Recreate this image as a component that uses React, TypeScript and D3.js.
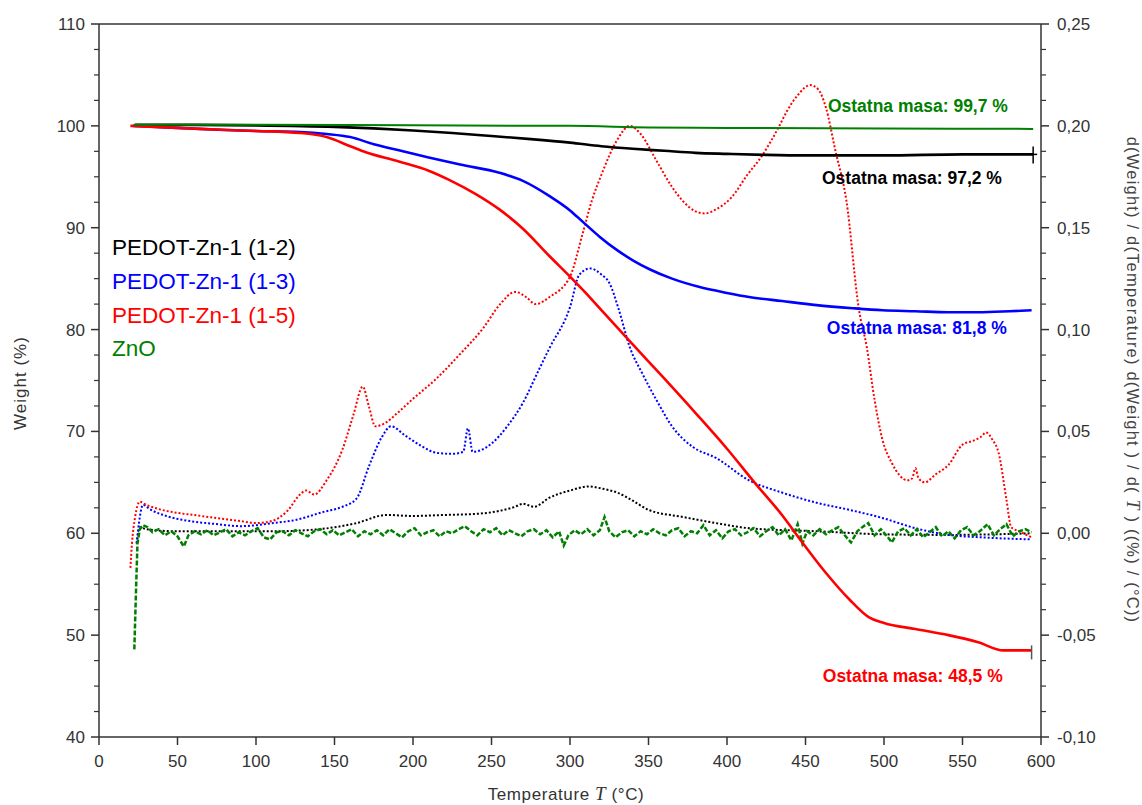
import React from 'react';
import * as d3 from 'd3';

// ---------- DATA ----------
const xTicks = [0, 50, 100, 150, 200, 250, 300, 350, 400, 450, 500, 550, 600];
const leftTicks = [40, 50, 60, 70, 80, 90, 100, 110];
const rightTicks = [-0.10, -0.05, 0.0, 0.05, 0.10, 0.15, 0.20, 0.25];

const seriesNames = ['PEDOT-Zn-1 (1-2)', 'PEDOT-Zn-1 (1-3)', 'PEDOT-Zn-1 (1-5)', 'ZnO'];
const residueLabels = ['Ostatna masa: 97,2 %', 'Ostatna masa: 81,8 %', 'Ostatna masa: 48,5 %', 'Ostatna masa: 99,7 %'];

// Weight (%) vs temperature (°C)
const weightBlack: [number, number][] = [
  [23, 100.1], [50, 100.1], [100, 100.05], [150, 99.9], [175, 99.75], [200, 99.55], [225, 99.3],
  [250, 99.0], [275, 98.7], [300, 98.35], [320, 98.0], [340, 97.75], [360, 97.55], [380, 97.35],
  [400, 97.25], [425, 97.15], [450, 97.1], [500, 97.1], [550, 97.2], [595, 97.2],
];
const weightBlue: [number, number][] = [
  [22, 100.0], [50, 99.8], [80, 99.6], [100, 99.5], [128, 99.4], [145, 99.2], [160, 98.9], [175, 98.2],
  [191, 97.6], [210, 96.9], [230, 96.2], [255, 95.4], [270, 94.6], [287, 93.1], [300, 91.7], [308, 90.6],
  [319, 89.1], [330, 87.8], [340, 86.8], [351, 85.9], [365, 85.0], [382, 84.2], [400, 83.6], [414, 83.2],
  [435, 82.8], [457, 82.4], [480, 82.1], [499, 81.9], [520, 81.8], [541, 81.7], [560, 81.7], [580, 81.8], [594, 81.9],
];
const weightRed: [number, number][] = [
  [20, 100.0], [50, 99.8], [64, 99.7], [100, 99.5], [128, 99.3], [145, 98.9], [160, 98.0], [170, 97.4],
  [191, 96.5], [210, 95.6], [223, 94.7], [240, 93.3], [255, 91.8], [270, 89.9], [287, 87.2], [300, 85.2],
  [310, 83.6], [320, 81.9], [336, 79.2], [360, 75.2], [380, 71.8], [400, 68.3], [418, 64.9], [435, 61.8],
  [448, 59.1], [462, 56.3], [478, 53.5], [490, 51.8], [500, 51.2], [520, 50.6], [541, 50.0], [560, 49.3],
  [576, 48.5], [594, 48.5],
];
const weightGreen: [number, number][] = [
  [22, 100.1], [100, 100.1], [200, 100.05], [300, 100.0], [350, 99.85], [400, 99.8], [500, 99.75], [595, 99.7],
];

// d(Weight)/dT ((%)/(°C)) vs temperature (°C)
const derivBlack: [number, number][] = [
  [24, -0.005], [26, 0.003], [30, 0.002], [50, 0.001], [80, 0.001], [111, 0.001], [140, 0.002], [164, 0.005],
  [183, 0.009], [200, 0.0085], [220, 0.009], [240, 0.0095], [255, 0.011], [265, 0.013], [270, 0.0145],
  [277, 0.013], [287, 0.0175], [300, 0.021], [312, 0.023], [320, 0.022], [330, 0.02], [340, 0.016],
  [350, 0.0115], [372, 0.008], [393, 0.005], [414, 0.0025], [457, 0.001], [500, -0.0005], [541, -0.0008], [594, 0.0],
];
const derivBlue: [number, number][] = [
  [24, -0.005], [26, 0.008], [28, 0.014], [32, 0.012], [45, 0.008], [58, 0.006], [75, 0.0045], [90, 0.0035],
  [111, 0.005], [125, 0.0065], [143, 0.0105], [155, 0.013], [164, 0.017], [172, 0.033], [180, 0.047],
  [186, 0.0525], [195, 0.048], [205, 0.043], [215, 0.0395], [225, 0.039], [232, 0.04], [235, 0.0515],
  [238, 0.04], [250, 0.044], [260, 0.0525], [270, 0.064], [280, 0.08], [287, 0.091], [300, 0.111],
  [306, 0.127], [313, 0.13], [320, 0.127], [325, 0.123], [331, 0.11], [338, 0.0915], [346, 0.0785],
  [355, 0.0655], [365, 0.0525], [378, 0.0425], [393, 0.037], [414, 0.026], [435, 0.02], [457, 0.015],
  [478, 0.0115], [499, 0.0075], [520, 0.0025], [541, -0.0008], [562, -0.002], [594, -0.003],
];
const derivRed: [number, number][] = [
  [20, -0.017], [21, -0.005], [23, 0.008], [26, 0.0155], [30, 0.014], [40, 0.0115], [50, 0.01], [60, 0.009],
  [75, 0.0075], [90, 0.006], [100, 0.005], [110, 0.006], [120, 0.011], [128, 0.019], [132, 0.021], [137, 0.019],
  [145, 0.026], [155, 0.041], [162, 0.058], [168, 0.072], [172, 0.062], [176, 0.0525], [182, 0.054], [190, 0.059],
  [200, 0.066], [215, 0.076], [230, 0.088], [245, 0.101], [255, 0.112], [265, 0.1185], [272, 0.116], [278, 0.1125],
  [287, 0.116], [300, 0.126], [308, 0.147], [314, 0.1635], [320, 0.176], [330, 0.193], [338, 0.2], [345, 0.196],
  [355, 0.183], [365, 0.17], [372, 0.163], [380, 0.158], [386, 0.157], [393, 0.159], [403, 0.165], [413, 0.176],
  [422, 0.185], [433, 0.1995], [438, 0.207], [445, 0.215], [453, 0.22], [458, 0.218], [463, 0.209], [469, 0.188],
  [476, 0.1635], [484, 0.11], [489, 0.0915], [494, 0.0655], [499, 0.046], [505, 0.0345], [515, 0.026], [518, 0.027],
  [520, 0.032], [522, 0.027], [526, 0.025], [533, 0.029], [541, 0.0335], [550, 0.0435], [557, 0.0455], [562, 0.0475],
  [565, 0.0495], [569, 0.046], [573, 0.0395], [578, 0.0165], [581, 0.003], [586, 0.001], [594, -0.002],
];
const derivGreen: [number, number][] = [
  [22.5, -0.057], [23.5, -0.03], [24.5, -0.005], [26, 0.002], [28, 0.004], [31, 0.003], [34, 0.0005], [38, 0.002],
  [42, -0.001], [46, 0.001], [50, -0.0015], [54, -0.0065], [57, -0.001], [61, 0.001], [65, -0.0005], [69, 0.0015],
  [73, -0.001], [77, 0.0005], [81, 0.002], [85, -0.0015], [89, 0.0005], [93, -0.001], [97, 0.001], [101, 0.0025],
  [105, -0.002], [109, -0.003], [113, 0.0005], [117, 0.001], [121, -0.001], [125, 0.0015], [129, 0.0], [133, -0.0015],
  [137, 0.001], [141, 0.002], [145, -0.0005], [149, 0.0015], [153, -0.001], [157, 0.0005], [161, 0.002], [165, -0.0015],
  [169, 0.001], [173, -0.0005], [177, 0.0015], [181, -0.001], [185, 0.002], [189, 0.0], [193, -0.002], [197, 0.001],
  [201, 0.0025], [205, -0.001], [209, 0.0005], [213, 0.0015], [217, -0.0015], [221, 0.001], [225, 0.0], [229, 0.002],
  [233, 0.0035], [237, 0.001], [241, -0.001], [245, 0.002], [249, 0.0005], [253, 0.0025], [257, -0.001], [261, 0.0015],
  [265, 0.0], [269, -0.0015], [273, 0.001], [277, 0.002], [281, -0.0005], [285, 0.0015], [289, -0.002], [293, 0.001],
  [296, -0.006], [299, -0.001], [303, 0.0015], [307, -0.0005], [311, 0.002], [315, -0.001], [319, 0.0015], [322, 0.008],
  [325, 0.001], [329, -0.002], [333, 0.0005], [337, 0.0015], [341, -0.0015], [345, 0.001], [349, -0.0005], [353, 0.002],
  [357, 0.0], [361, -0.001], [365, 0.0015], [369, 0.0025], [373, -0.0015], [377, 0.001], [381, 0.0], [385, 0.004],
  [389, -0.001], [393, 0.0015], [397, -0.0025], [401, 0.001], [405, 0.002], [409, -0.001], [413, 0.0005], [417, 0.0025],
  [421, -0.0015], [425, 0.001], [429, 0.003], [433, -0.001], [437, 0.002], [441, -0.0035], [445, 0.0045], [448, -0.005],
  [451, 0.001], [455, -0.001], [459, 0.002], [463, -0.0005], [467, 0.0015], [471, 0.003], [475, -0.001], [479, -0.0045],
  [483, 0.001], [487, 0.0035], [490, 0.005], [494, -0.001], [498, 0.002], [502, -0.0015], [505, -0.0045], [509, 0.001],
  [513, 0.0025], [517, -0.001], [521, 0.002], [525, -0.002], [529, 0.0005], [533, 0.003], [537, -0.0015], [541, 0.001],
  [545, -0.0025], [549, 0.0015], [553, 0.003], [557, -0.001], [561, 0.001], [566, 0.0045], [570, -0.001], [574, 0.002],
  [578, 0.0045], [582, -0.0015], [586, 0.001], [590, 0.002], [594, 0.0005],
];

// ---------- LAYOUT ----------
const W = 1142;
const H = 805;
const X0 = 99, X1 = 1041, Y0 = 24, Y1 = 737;
const FONT = '"Liberation Sans", Arial, Helvetica, sans-serif';
const SERIF = '"Liberation Serif", "Times New Roman", serif';
const AXIS = '#333333';
const COLORS = ['#000000', '#0000ff', '#ff0000', '#008000'];

const x = d3.scaleLinear().domain([0, 600]).range([X0, X1]);
const yL = d3.scaleLinear().domain([40, 110]).range([Y1, Y0]);
const yR = d3.scaleLinear().domain([-0.1, 0.25]).range([Y1, Y0]);

const lineL = d3.line<[number, number]>().x(d => x(d[0])).y(d => yL(d[1])).curve(d3.curveMonotoneX);
const lineR = d3.line<[number, number]>().x(d => x(d[0])).y(d => yR(d[1])).curve(d3.curveMonotoneX);
const lineRNoise = d3.line<[number, number]>().x(d => x(d[0])).y(d => yR(d[1]));

const fmtR = (v: number) => d3.format('.2f')(v).replace('.', ',').replace('−', '-');

export default function App() {
  const leftMinor = d3.range(40, 110.001, 2.5).filter(v => Math.abs(v % 10) > 0.01);
  const rightMinor = d3.range(-0.1, 0.25001, 0.0125).filter(v => Math.abs(Math.round(v / 0.0125) % 4) !== 0);

  const weights = [weightBlack, weightBlue, weightRed, weightGreen];
  const derivs = [derivBlack, derivBlue, derivRed];

  const legendY = [255, 289, 323, 356];
  const residuePos: [number, number][] = [[460.5, 94.3], [463.6, 79.6], [461, 45.4], [464.3, 101.4]];

  return (
    <svg width={W} height={H} style={{ position: 'absolute', left: 0, top: 0, background: '#fff' }} fontFamily={FONT}>
      <rect x={0} y={0} width={W} height={H} fill="#ffffff" />

      {/* derivative curves */}
      {derivs.map((d, i) => (
        <path key={'d' + i} d={lineR(d) || ''} fill="none" stroke={COLORS[i]} strokeWidth={2} strokeDasharray="2 2" />
      ))}
      <path d={lineRNoise(derivGreen) || ''} fill="none" stroke={COLORS[3]} strokeWidth={2.5} strokeDasharray="5 2" />

      {/* weight curves */}
      {weights.map((d, i) => (
        <path key={'w' + i} d={lineL(d) || ''} fill="none" stroke={COLORS[i]} strokeWidth={i === 3 ? 2 : 2.6} strokeLinejoin="round" />
      ))}

      {/* end markers */}
      <line x1={x(595)} x2={x(595)} y1={yL(97.2) - 8} y2={yL(97.2) + 9} stroke="#000" strokeWidth={1.5} />
      <line x1={x(595) - 5} x2={x(595) + 4} y1={yL(97.2)} y2={yL(97.2)} stroke="#000" strokeWidth={1.5} />
      <line x1={x(594)} x2={x(594)} y1={yL(48.5) - 5} y2={yL(48.5) + 9} stroke="#555" strokeWidth={1.5} />

      {/* frame */}
      <line x1={X0} x2={X1} y1={Y0} y2={Y0} stroke={AXIS} strokeWidth={1.5} />
      <line x1={X0} x2={X1} y1={Y1} y2={Y1} stroke={AXIS} strokeWidth={1.5} />
      <line x1={X0} x2={X0} y1={Y0} y2={Y1} stroke={AXIS} strokeWidth={1.5} />
      <line x1={X1} x2={X1} y1={Y0} y2={Y1} stroke={AXIS} strokeWidth={1.5} />

      {/* x axis */}
      {xTicks.map(t => (
        <g key={'x' + t}>
          <line x1={x(t)} x2={x(t)} y1={Y1} y2={Y1 + 8} stroke={AXIS} strokeWidth={1.5} />
          <text x={x(t)} y={767} textAnchor="middle" fontSize={17} fill={AXIS}>{t}</text>
        </g>
      ))}
      <text x={566} y={800} textAnchor="middle" fontSize={17} letterSpacing={0.6} fill={AXIS}>
        Temperature <tspan fontFamily={SERIF} fontStyle="italic" fontSize={19}>T</tspan> (°C)
      </text>

      {/* left axis */}
      {leftTicks.map(t => (
        <g key={'l' + t}>
          <line x1={X0 - 8} x2={X0} y1={yL(t)} y2={yL(t)} stroke={AXIS} strokeWidth={1.5} />
          <text x={85} y={yL(t) + 6} textAnchor="end" fontSize={17} fill={AXIS}>{t}</text>
        </g>
      ))}
      {leftMinor.map(t => (
        <line key={'lm' + t} x1={X0 - 5} x2={X0} y1={yL(t)} y2={yL(t)} stroke={AXIS} strokeWidth={1.2} />
      ))}
      <text transform="translate(26,383) rotate(-90)" textAnchor="middle" fontSize={17} letterSpacing={1} fill={AXIS}>Weight (%)</text>

      {/* right axis */}
      {rightTicks.map(t => (
        <g key={'r' + t}>
          <line x1={X1} x2={X1 + 8} y1={yR(t)} y2={yR(t)} stroke={AXIS} strokeWidth={1.5} />
          <text x={1057} y={yR(t) + 6} textAnchor="start" fontSize={17} fill={AXIS}>{fmtR(t)}</text>
        </g>
      ))}
      {rightMinor.map((t, i) => (
        <line key={'rm' + i} x1={X1} x2={X1 + 5} y1={yR(t)} y2={yR(t)} stroke={AXIS} strokeWidth={1.2} />
      ))}
      <text transform="translate(1127,380) rotate(90)" textAnchor="middle" fontSize={16.5} letterSpacing={1.2} fill="#444">
        d(Weight) / d(Temperature) d(Weight ) / d( <tspan fontFamily={SERIF} fontStyle="italic" fontSize={18}>T</tspan> )  ((%) / (°C))
      </text>

      {/* legend */}
      {seriesNames.map((n, i) => (
        <text key={'lg' + i} x={112} y={legendY[i]} fontSize={22.5} fill={COLORS[i]}>{n}</text>
      ))}

      {/* residue annotations */}
      {residueLabels.map((s, i) => (
        <text key={'ra' + i} x={x(residuePos[i][0])} y={yL(residuePos[i][1])} fontSize={17.5} fontWeight="bold" fill={COLORS[i]}>{s}</text>
      ))}
    </svg>
  );
}
